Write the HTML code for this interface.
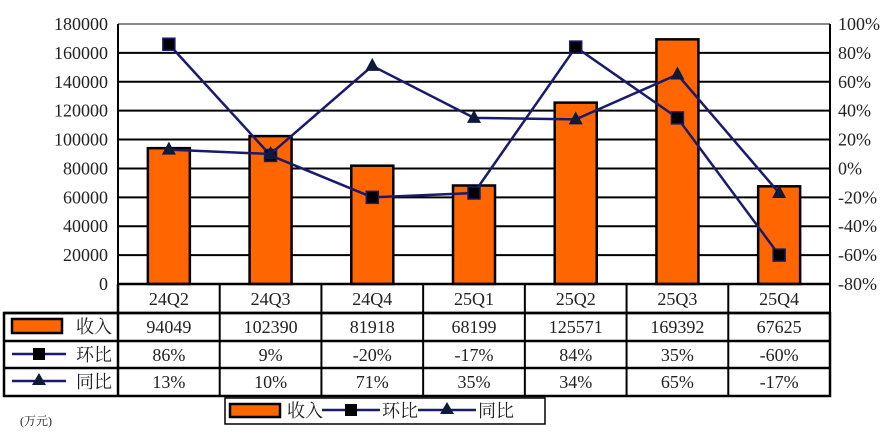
<!DOCTYPE html>
<html><head><meta charset="utf-8"><style>
body{margin:0;background:#fff;}
svg text{font-family:"Liberation Serif","Noto Serif CJK SC",serif;}
</style></head><body>
<svg id="c" width="883" height="440" xmlns="http://www.w3.org/2000/svg"></svg>
<script>
const categories=["24Q2","24Q3","24Q4","25Q1","25Q2","25Q3","25Q4"];
const revenue=[94049,102390,81918,68199,125571,169392,67625];
const qoq=[86,9,-20,-17,84,35,-60];
const yoy=[13,10,71,35,34,65,-17];
const leftTicks=[0,20000,40000,60000,80000,100000,120000,140000,160000,180000];
const rightTicks=[-80,-60,-40,-20,0,20,40,60,80,100];
const NS="http://www.w3.org/2000/svg";
const svg=document.getElementById('c');
const X0=118,X1=830,Y0=284,Y1=24;
const cw=(X1-X0)/categories.length;
const yL=v=>Y0-(v/180000)*(Y0-Y1);
const yR=v=>Y0-((v+80)/180)*(Y0-Y1);
const xc=i=>X0+cw*(i+0.5);
function el(t,a,p){const e=document.createElementNS(NS,t);for(const k in a)e.setAttribute(k,a[k]);(p||svg).appendChild(e);return e;}
function tx(s,x,y,a){const e=el('text',Object.assign({x:x,y:y,'font-size':18,fill:'#222'},a||{}));e.textContent=s;return e;}
leftTicks.forEach((v,i)=>{
 const g=el('line',{x1:X0,x2:X1,y1:yL(v),y2:yL(v),stroke:i==leftTicks.length-1?'#888':'#000','stroke-width':2});
 
 
 const t=tx(String(v),X0-10,yL(v)+6,{'text-anchor':'end'});
 
 
});
rightTicks.forEach(v=>{
 const t=tx(v+'%',838,yR(v)+6,{});
 
 
});
el('line',{x1:X0,x2:X0,y1:Y1,y2:Y0,stroke:'#000','stroke-width':2});
el('line',{x1:X1,x2:X1,y1:Y1,y2:Y0,stroke:'#000','stroke-width':2});
revenue.forEach((v,i)=>{
 const b=el('rect',{x:xc(i)-21,y:yL(v),width:42,height:Y0-yL(v),fill:'#ff6600',stroke:'#000','stroke-width':2.5});
 
 
});
function line(arr,name,marker){
 const p=el('polyline',{points:arr.map((v,i)=>xc(i)+','+yR(v)).join(' '),fill:'none',stroke:'#1a1a6e','stroke-width':2.5});
 
 
 arr.forEach((v,i)=>{
  const x=xc(i),y=yR(v);let m;
  if(marker=='sq')m=el('rect',{x:x-6,y:y-6,width:12,height:12,fill:'#000',stroke:'#1a1a6e','stroke-width':1.5});
  else m=el('polygon',{points:`${x},${y-8} ${x-7},${y+5} ${x+7},${y+5}`,fill:'#0d1a3a'});
  
  
 });
}
line(qoq,'qoq','sq');line(yoy,'yoy','tri');
const rows=[284,313,341,368,396];
el('line',{x1:X0,x2:X0,y1:284,y2:396,stroke:'#000','stroke-width':2.5});
el('rect',{x:4,y:313,width:X1-4,height:83,fill:'none',stroke:'#000','stroke-width':2.5});
rows.slice(0,4).forEach(y=>el('line',{x1:y==284?X0:4,x2:X1,y1:y,y2:y,stroke:'#000','stroke-width':2.5}));
for(let i=1;i<=categories.length;i++)el('line',{x1:X0+cw*i,x2:X0+cw*i,y1:284,y2:396,stroke:'#000','stroke-width':2});
categories.forEach((c,i)=>{
 const t=tx(c,xc(i),305,{'text-anchor':'middle'});
 tx(String(revenue[i]),xc(i),333,{'text-anchor':'middle'});
 tx(qoq[i]+'%',xc(i),361,{'text-anchor':'middle'});
 tx(yoy[i]+'%',xc(i),388,{'text-anchor':'middle'});
});
el('rect',{x:12,y:319,width:50,height:14,fill:'#ff6600',stroke:'#000','stroke-width':2.5});
tx('收入',76,333);
el('line',{x1:12,x2:66,y1:354,y2:354,stroke:'#1a1a6e','stroke-width':2.5});
el('rect',{x:33,y:348,width:12,height:12,fill:'#000'});
tx('环比',76,361);
el('line',{x1:12,x2:66,y1:381,y2:381,stroke:'#1a1a6e','stroke-width':2.5});
el('polygon',{points:'39,373 32,385 46,385',fill:'#0d1a3a'});
tx('同比',76,388);
const lg=el('g',{});
el('rect',{x:225,y:398,width:320,height:26,fill:'#fff',stroke:'#000','stroke-width':1.5},lg);
el('rect',{x:230,y:404,width:50,height:13,fill:'#ff6600',stroke:'#000','stroke-width':2.5},lg);
tx('收入',287,417,{});
el('line',{x1:322,x2:380,y1:410,y2:410,stroke:'#1a1a6e','stroke-width':2.5},lg);
el('rect',{x:345,y:404,width:12,height:12,fill:'#000'},lg);
tx('环比',382,417);
el('line',{x1:418,x2:476,y1:410,y2:410,stroke:'#1a1a6e','stroke-width':2.5},lg);
el('polygon',{points:'447,402 440,414 454,414',fill:'#0d1a3a'},lg);
tx('同比',478,417);
const u=tx('(万元)',20,425,{'font-size':12});
</script>
</body></html>
